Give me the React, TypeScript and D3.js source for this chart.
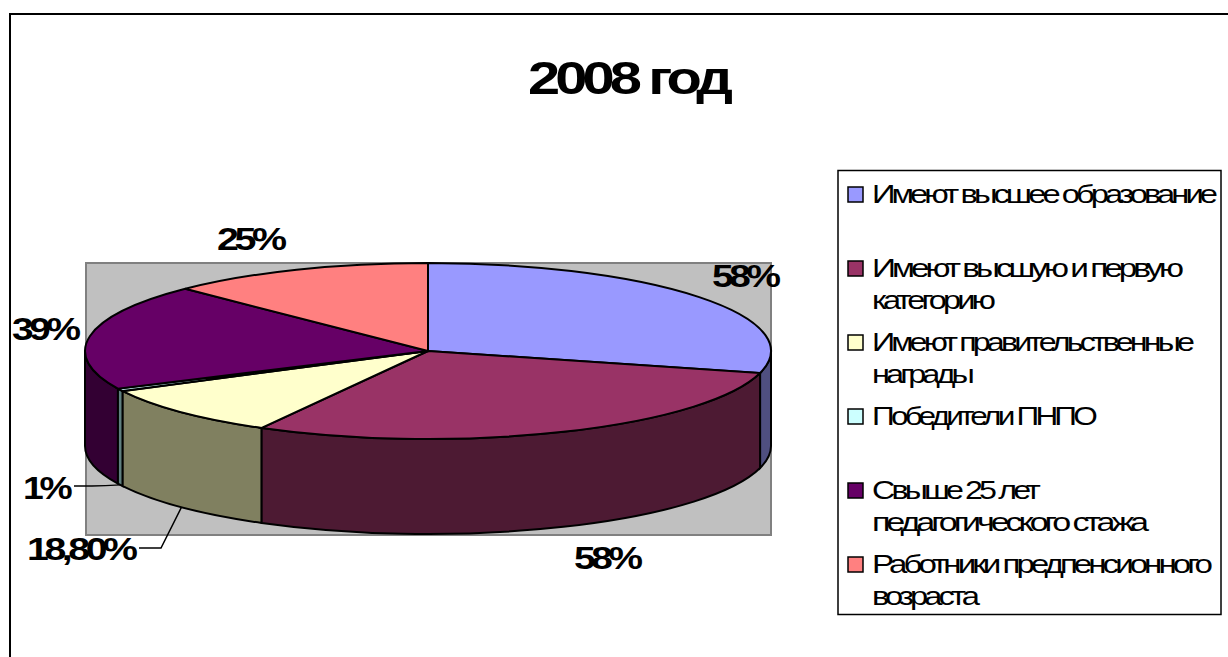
import React from "react";
import * as d3 from "d3";

const categories = ["Имеют высшее образование", "Имеют высшую и первую категорию", "Имеют правительственные награды", "Победители ПНПО", "Свыше 25 лет педагогического стажа", "Работники предпенсионного возраста"];
const values = [58, 58, 18.8, 1, 39, 25];
const valueLabels = ["58%", "58%", "18,80%", "1%", "39%", "25%"];
const topColors = ["#9999ff", "#993366", "#ffffcc", "#ccffff", "#660066", "#ff8080"];
const sideColors = ["#4f4f80", "#4d1a33", "#808060", "#608080", "#330033", "#804040"];
const legendLines = [["Имеют высшее образование"], ["Имеют высшую и первую", "категорию"], ["Имеют правительственные", "награды"], ["Победители ПНПО"], ["Свыше 25 лет", "педагогического стажа"], ["Работники предпенсионного", "возраста"]];
const legendWidths = [[345], [311, 123], [322, 102], [225], [168, 276], [340, 107]];

const cx = 428, cy = 351, rx = 343, ry = 88, depth = 95;
const FONT = "'Liberation Sans', Arial, sans-serif";

const pt = (a: number, dy = 0): [number, number] => [cx + rx * Math.sin(a), cy - ry * Math.cos(a) + dy];

function wallPath(a0: number, a1: number) {
  const s = Math.max(a0, Math.PI / 2), e = Math.min(a1, Math.PI * 1.5);
  if (e <= s) return null;
  const [x0, y0] = pt(s), [x1, y1] = pt(e);
  return `M${x0},${y0}A${rx},${ry} 0 0 1 ${x1},${y1}L${x1},${y1 + depth}A${rx},${ry} 0 0 0 ${x0},${y0 + depth}Z`;
}

function Label({ x, y, w, size, bold = true, spacing = 0, children }: any) {
  return (
    <text x={x} y={y} textLength={w + spacing} lengthAdjust="spacingAndGlyphs" fontFamily={FONT} fontSize={size}
      fontWeight={bold ? 700 : 400} letterSpacing={spacing} fill="#000">{children}</text>
  );
}

export default function App() {
  const arcs = d3.pie<number>().sort(null).startAngle(0).endAngle(Math.PI * 2)(values);
  const arcGen = d3.arc<d3.PieArcDatum<number>>().innerRadius(0).outerRadius(rx);
  const order = [0, 4, 3, 2, 1];
  const lead = (a: number) => pt(a, depth);
  return (
    <svg width={1228} height={657} style={{ position: "absolute", left: 0, top: 0, background: "#fff" }}>
      <path d="M10,657V14H1228" fill="none" stroke="#000" strokeWidth={2} />
      <Label x={528} y={94} w={204} size={47} spacing={-4}>2008 год</Label>

      <rect x={86} y={263} width={685} height={272} fill="#c0c0c0" stroke="#808080" strokeWidth={2} />

      {order.map((i) => {
        const d = wallPath(arcs[i].startAngle, arcs[i].endAngle);
        return d && <path key={i} d={d} fill={sideColors[i]} stroke="#000" strokeWidth={2} />;
      })}
      <g transform={`translate(${cx},${cy}) scale(1,${ry / rx})`}>
        {arcs.map((a, i) => (
          <path key={i} d={arcGen(a)!} fill={topColors[i]} stroke="#000" strokeWidth={2} vectorEffect="non-scaling-stroke" />
        ))}
      </g>

      <path d={`M74,486H92Q105,486 ${lead((arcs[3].startAngle + arcs[3].endAngle) / 2).join(",")}`} fill="none" stroke="#000" strokeWidth={1.5} />
      <path d={`M139,548H161L${lead((arcs[2].startAngle + arcs[2].endAngle) / 2).join(",")}`} fill="none" stroke="#000" strokeWidth={1.5} />

      <Label x={712} y={287} w={68} size={31} spacing={-3.5}>{valueLabels[0]}</Label>
      <Label x={574} y={569} w={68} size={31} spacing={-3.5}>{valueLabels[1]}</Label>
      <Label x={27} y={560} w={110} size={31} spacing={-3.5}>{valueLabels[2]}</Label>
      <Label x={23} y={499} w={49} size={31} spacing={-3.5}>{valueLabels[3]}</Label>
      <Label x={12} y={340} w={68} size={31} spacing={-3.5}>{valueLabels[4]}</Label>
      <Label x={217} y={250} w={69} size={31} spacing={-3.5}>{valueLabels[5]}</Label>

      <rect x={838} y={170.5} width={383} height={444} fill="#fff" stroke="#000" strokeWidth={1.5} />
      {categories.map((_, i) => {
        const y = 187 + i * 74;
        return (
          <g key={i}>
            <rect x={848} y={y} width={15} height={15} fill={topColors[i]} stroke="#000" strokeWidth={1.5} />
            {legendLines[i].map((line, j) => (
              <Label key={j} x={872} y={y + 15.5 + j * 32.5} w={legendWidths[i][j]} size={25} bold={false} spacing={-3}>{line}</Label>
            ))}
          </g>
        );
      })}
    </svg>
  );
}
